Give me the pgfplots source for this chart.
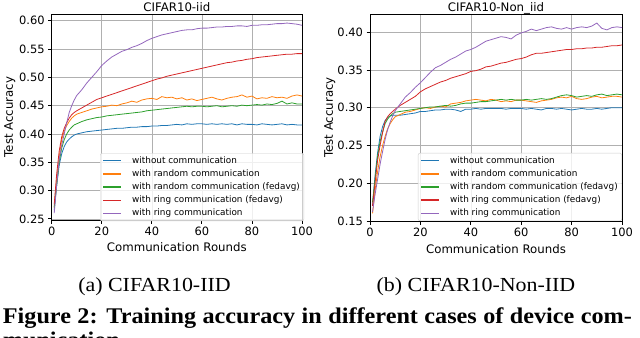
\documentclass[border=0pt]{standalone}
\usepackage{pgfplots}
\pgfplotsset{compat=1.18}
\usepackage{pgfplotstable}
\usepackage{fontspec}
\newfontfamily\dejavu{DejaVu Sans}
\newfontfamily\capserif{Liberation Serif}

\definecolor{tabblue}{HTML}{1F77B4}
\definecolor{taborange}{HTML}{FF7F0E}
\definecolor{tabgreen}{HTML}{2CA02C}
\definecolor{tabred}{HTML}{D62728}
\definecolor{tabpurple}{HTML}{9467BD}
\definecolor{gridgray}{HTML}{B0B0B0}
\definecolor{leggray}{HTML}{CCCCCC}

% x blue orange green red purple
\pgfplotstableread{
x blue orange green red purple
1 0.265 0.270 0.270 0.275 0.260
2 0.310 0.320 0.310 0.330 0.310
3 0.345 0.360 0.350 0.370 0.355
4 0.365 0.390 0.375 0.395 0.380
5 0.378 0.405 0.390 0.410 0.400
6 0.386 0.415 0.400 0.420 0.420
7 0.391 0.422 0.407 0.428 0.438
8 0.395 0.428 0.412 0.434 0.450
9 0.398 0.432 0.416 0.438 0.460
10 0.400 0.435 0.418 0.441 0.468
12 0.402 0.438 0.422 0.446 0.478
14 0.404 0.441 0.425 0.451 0.490
16 0.405 0.444 0.427 0.456 0.500
18 0.406 0.446 0.429 0.461 0.510
20 0.407 0.448 0.430 0.464 0.521
22 0.408 0.449 0.432 0.467 0.529
24 0.409 0.451 0.433 0.470 0.536
26 0.410 0.450 0.434 0.473 0.541
28 0.410 0.453 0.435 0.476 0.546
30 0.411 0.455 0.436 0.479 0.549
32 0.412 0.458 0.437 0.482 0.553
34 0.412 0.456 0.438 0.485 0.556
36 0.413 0.460 0.439 0.488 0.560
38 0.413 0.462 0.441 0.491 0.565
40 0.414 0.463 0.442 0.494 0.569
42 0.414 0.461 0.443 0.497 0.572
44 0.415 0.466 0.444 0.499 0.575
46 0.415 0.464 0.445 0.502 0.577
48 0.416 0.465 0.446 0.504 0.579
50 0.417 0.462 0.447 0.506 0.581
52 0.416 0.464 0.448 0.508 0.583
54 0.418 0.460 0.449 0.510 0.584
56 0.417 0.462 0.448 0.512 0.584
58 0.418 0.459 0.449 0.514 0.586
60 0.418 0.461 0.449 0.516 0.587
62 0.417 0.463 0.448 0.518 0.587
64 0.418 0.465 0.449 0.520 0.588
66 0.417 0.462 0.450 0.522 0.589
68 0.418 0.460 0.448 0.524 0.589
70 0.417 0.463 0.449 0.526 0.590
72 0.418 0.465 0.450 0.527 0.590
74 0.416 0.466 0.449 0.529 0.591
76 0.418 0.469 0.451 0.530 0.591
78 0.417 0.465 0.450 0.532 0.590
80 0.417 0.467 0.451 0.533 0.592
82 0.416 0.462 0.452 0.535 0.592
84 0.418 0.464 0.451 0.536 0.593
86 0.417 0.463 0.453 0.537 0.593
88 0.416 0.466 0.452 0.538 0.594
90 0.417 0.464 0.454 0.539 0.595
92 0.418 0.465 0.458 0.540 0.595
94 0.416 0.463 0.453 0.541 0.596
96 0.417 0.467 0.455 0.541 0.595
98 0.416 0.469 0.453 0.542 0.594
100 0.416 0.467 0.453 0.542 0.592
}\iidtab

\pgfplotstableread{
x blue orange green red purple
1 0.170 0.160 0.175 0.170 0.162
2 0.210 0.190 0.205 0.200 0.185
3 0.240 0.215 0.235 0.230 0.205
4 0.262 0.235 0.255 0.250 0.225
5 0.275 0.250 0.268 0.267 0.242
6 0.283 0.262 0.279 0.282 0.258
7 0.287 0.272 0.285 0.288 0.271
8 0.289 0.279 0.289 0.292 0.281
9 0.290 0.284 0.292 0.295 0.289
10 0.290 0.288 0.294 0.298 0.296
12 0.290 0.291 0.295 0.303 0.305
14 0.291 0.294 0.296 0.307 0.314
16 0.292 0.295 0.297 0.311 0.320
18 0.293 0.297 0.298 0.315 0.327
20 0.295 0.299 0.299 0.321 0.333
22 0.295 0.300 0.300 0.325 0.340
24 0.296 0.299 0.301 0.328 0.347
26 0.297 0.301 0.301 0.331 0.353
28 0.297 0.302 0.302 0.334 0.356
30 0.298 0.301 0.303 0.336 0.360
32 0.298 0.305 0.302 0.339 0.364
34 0.297 0.306 0.303 0.341 0.367
36 0.295 0.307 0.305 0.343 0.371
38 0.298 0.309 0.306 0.345 0.375
40 0.298 0.310 0.306 0.348 0.377
42 0.299 0.311 0.307 0.349 0.380
44 0.298 0.310 0.308 0.351 0.384
46 0.299 0.309 0.308 0.354 0.388
48 0.299 0.311 0.309 0.355 0.390
50 0.299 0.310 0.310 0.357 0.392
52 0.299 0.308 0.311 0.359 0.394
54 0.298 0.309 0.310 0.360 0.393
56 0.299 0.308 0.311 0.362 0.391
58 0.299 0.310 0.310 0.364 0.396
60 0.299 0.310 0.310 0.365 0.399
62 0.298 0.309 0.311 0.367 0.401
64 0.299 0.308 0.310 0.370 0.404
66 0.298 0.307 0.311 0.372 0.402
68 0.297 0.309 0.312 0.372 0.404
70 0.299 0.310 0.311 0.373 0.406
72 0.299 0.311 0.312 0.374 0.407
74 0.298 0.313 0.314 0.375 0.405
76 0.299 0.314 0.316 0.376 0.404
78 0.298 0.313 0.317 0.377 0.406
80 0.297 0.315 0.316 0.377 0.404
82 0.298 0.312 0.314 0.378 0.406
84 0.299 0.311 0.315 0.378 0.407
86 0.298 0.312 0.316 0.379 0.406
88 0.298 0.314 0.315 0.379 0.408
90 0.299 0.315 0.317 0.380 0.412
92 0.298 0.313 0.318 0.380 0.405
94 0.299 0.314 0.316 0.381 0.403
96 0.300 0.315 0.317 0.382 0.406
98 0.300 0.315 0.318 0.382 0.407
100 0.300 0.314 0.317 0.383 0.406
}\noniidtab

\pgfplotsset{
  accplot/.style={
    scale only axis, anchor=north west,
    xmin=0, xmax=100, xtick={0,20,...,100},
    grid=major, grid style={color=gridgray, line width=0.6bp},
    axis line style={black, line width=0.8bp},
    tick align=outside, major tick length=3.5bp,
    tick style={black, line width=0.8bp},
    xtick pos=bottom, ytick pos=left,
    /pgf/number format/assume math mode=true,
    ticklabel style={font=\dejavu\fontsize{11.5}{13}\selectfont},
    yticklabel style={/pgf/number format/.cd, fixed, fixed zerofill, precision=2},
    label style={font=\dejavu\fontsize{11.8}{13}\selectfont},
    every axis title/.style={at={(0.5,1)}, anchor=base, yshift=2.5bp,
      font=\dejavu\fontsize{11.8}{13}\selectfont},
    xlabel={Communication Rounds}, ylabel={Test Accuracy},
    xlabel style={at={(axis description cs:0.5,-0.1335)}, anchor=center},
    legend cell align=left,
    legend style={font=\dejavu\fontsize{8.9}{10}\selectfont, draw=leggray,
      rounded corners=2bp, fill=white, fill opacity=0.8, text opacity=1, draw opacity=1,
      anchor=north west, inner xsep=2bp, inner ysep=1.5bp, column sep=8bp, row sep=0.9bp},
    legend image code/.code={\draw[#1, line width=1.2bp] (0bp,0bp) -- (18bp,0bp);},
    every axis plot/.append style={line width=0.8bp, mark=none},
  }
}

\begin{document}
\begin{tikzpicture}
\path[use as bounding box] (0bp,0bp) rectangle (640bp,-338bp);

\begin{axis}[accplot, at={(51.7bp,-14bp)}, width=250.3bp, height=206bp,
  ymin=0.248, ymax=0.612, ytick={0.25,0.30,...,0.61},
  title={CIFAR10-iid},
  ylabel style={at={(axis description cs:-0.167,0.5)}, anchor=center},
  legend style={at={(0.193,0.325)}}]
\addplot[tabblue] table[x=x,y=blue]{\iidtab};
\addlegendentry{without communication}
\addplot[taborange, legend image code/.code={\draw[taborange, line width=2bp] (0bp,0bp) -- (18bp,0bp);}] table[x=x,y=orange]{\iidtab};
\addlegendentry{with random communication}
\addplot[tabgreen] table[x=x,y=green]{\iidtab};
\addlegendentry{with random communication (fedavg)}
\addplot[tabred] table[x=x,y=red]{\iidtab};
\addlegendentry{with ring communication (fedavg)}
\addplot[tabpurple] table[x=x,y=purple]{\iidtab};
\addlegendentry{with ring communication}
\end{axis}

\begin{axis}[accplot, at={(370bp,-14bp)}, width=252bp, height=207bp,
  ymin=0.15, ymax=0.424, ytick={0.15,0.20,...,0.41},
  title={CIFAR10-Non\_iid},
  ylabel style={at={(axis description cs:-0.159,0.5)}, anchor=center},
  legend style={at={(0.19,0.329)}}]
\addplot[tabblue] table[x=x,y=blue]{\noniidtab};
\addlegendentry{without communication}
\addplot[taborange, legend image code/.code={\draw[taborange, line width=2bp] (0bp,0bp) -- (18bp,0bp);}] table[x=x,y=orange]{\noniidtab};
\addlegendentry{with random communication}
\addplot[tabgreen] table[x=x,y=green]{\noniidtab};
\addlegendentry{with random communication (fedavg)}
\addplot[tabred] table[x=x,y=red]{\noniidtab};
\addlegendentry{with ring communication (fedavg)}
\addplot[tabpurple] table[x=x,y=purple]{\noniidtab};
\addlegendentry{with ring communication}
\end{axis}

\node[anchor=base, inner sep=0pt] at (154.5bp,-291.7bp) {\scalebox{1.1}[1]{\capserif\fontsize{20}{22}\selectfont (a) CIFAR10-IID}};
\node[anchor=base, inner sep=0pt] at (476bp,-291.7bp) {\scalebox{1.1}[1]{\capserif\fontsize{20}{22}\selectfont (b) CIFAR10-Non-IID}};
\node[anchor=base west, inner sep=0pt] at (2.7bp,-323.3bp) {\scalebox{1.08}[1]{\capserif\bfseries\fontsize{22.5}{26}\selectfont\makebox[582.4bp][s]{Figure 2: Training accuracy in different cases of device com-}}};
\node[anchor=base west, inner sep=0pt] at (2.7bp,-347bp) {\scalebox{1.08}[1]{\capserif\bfseries\fontsize{22.5}{26}\selectfont munication.}};
\end{tikzpicture}
\end{document}
